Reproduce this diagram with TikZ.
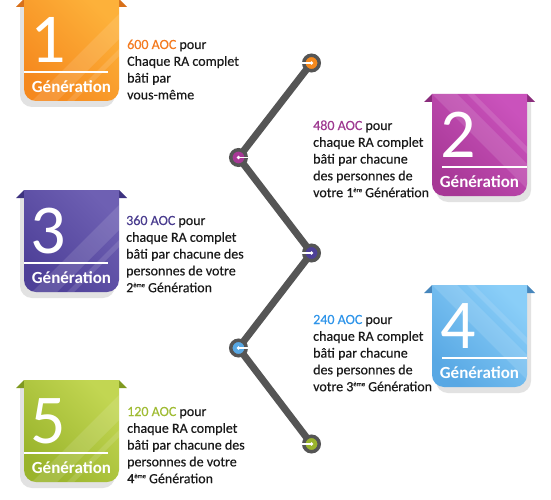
\documentclass[tikz,border=0pt]{standalone}
\usepackage{fontspec}
\setmainfont{Carlito}
\newfontfamily\txtfont[FakeBold=0.35]{Carlito}
\usetikzlibrary{backgrounds}
\definecolor{linegray}{HTML}{555555}
\definecolor{shadowgray}{HTML}{E2E2E2}
\definecolor{txtcol}{HTML}{1A1A1A}
% badge colours
\definecolor{c1dark}{HTML}{F5891E}\definecolor{c1light}{HTML}{FDB13A}\definecolor{c1flap}{HTML}{D8701A}\definecolor{c1text}{HTML}{F47B20}
\definecolor{c2dark}{HTML}{A73896}\definecolor{c2light}{HTML}{CA52BC}\definecolor{c2flap}{HTML}{8A2C7C}\definecolor{c2text}{HTML}{9E3A91}
\definecolor{c3dark}{HTML}{4E4098}\definecolor{c3light}{HTML}{6E60B3}\definecolor{c3flap}{HTML}{3E3380}\definecolor{c3text}{HTML}{4A3D8F}
\definecolor{c4dark}{HTML}{58A8E4}\definecolor{c4light}{HTML}{8ACEF8}\definecolor{c4flap}{HTML}{4686BC}\definecolor{c4text}{HTML}{2F95EA}
\definecolor{c5dark}{HTML}{9AB42C}\definecolor{c5light}{HTML}{C2D652}\definecolor{c5flap}{HTML}{809A20}\definecolor{c5text}{HTML}{A0BC34}
\newcommand\supx[1]{\raisebox{5pt}{\fontsize{6.5}{7}\selectfont #1}}
\tikzset{
  txt/.style={anchor=base west, inner sep=0pt, text=txtcol, font=\txtfont\fontsize{14}{16.8}\selectfont},
  digit/.style={text=white, inner sep=0pt, font=\fontsize{70}{70}\selectfont},
  gen/.style={text=white, inner sep=0pt, font=\bfseries\fontsize{17}{17}\selectfont},
  ring/.style={circle, draw=linegray, line width=3.5pt, minimum size=15.5pt, inner sep=0pt},
  tick/.style={white, line width=1.5pt},
  conn/.style={linegray, line width=7pt, line join=round}
}
% #1 index, #2 left x, #3 top y, #4 side (0 = left column, 1 = right column)
\newcommand\drawbadge[4]{%
\begin{scope}[shift={(#2,#3)}]
  \ifnum#4=0 \def\sdx{-4}\def\numx{24}\def\lxa{0}\def\lxb{84}\else\def\sdx{4}\def\numx{26}\def\lxa{10}\def\lxb{95}\fi
  \fill[shadowgray] (\sdx,8) -- (\sdx+95,8) -- (\sdx+95,96) arc[start angle=0,end angle=-90,radius=12pt]
     -- (\sdx+12,108) arc[start angle=-90,end angle=-180,radius=12pt] -- cycle;
  \fill[c#1flap] (-8,8) -- (0,0) -- (0,8) -- cycle;
  \fill[c#1flap] (95,0) -- (103,8) -- (95,8) -- cycle;
  \shade[top color=c#1light, bottom color=c#1dark, shading angle=-45]
     (0,0) -- (95,0) -- (95,90) arc[start angle=0,end angle=-90,radius=12pt]
     -- (12,102) arc[start angle=-90,end angle=-180,radius=12pt] -- cycle;
  \begin{scope}
    \clip (0,0) -- (95,0) -- (95,90) arc[start angle=0,end angle=-90,radius=12pt]
     -- (12,102) arc[start angle=-90,end angle=-180,radius=12pt] -- cycle;
    \ifnum#4=0
      \fill[white,opacity=0.12] (130,-20) -- (155,-20) -- (15,120) -- (-10,120) -- cycle;
      \fill[white,opacity=0.12] (165,-20) -- (172,-20) -- (32,120) -- (25,120) -- cycle;
    \else
      \fill[white,opacity=0.12] (-20,-20) -- (5,-20) -- (145,120) -- (120,120) -- cycle;
      \fill[white,opacity=0.12] (15,-20) -- (22,-20) -- (162,120) -- (155,120) -- cycle;
    \fi
  \end{scope}
  \draw[white, line width=1.2pt] (\lxa,73) -- (\lxb,73);
  \node[digit] (b#1num) at (\numx,41) {#1};
  \node[gen] (b#1gen) at (47.5,88) {Génération};
\end{scope}}
\begin{document}
\begin{tikzpicture}[x=1pt,y=-1pt]
\useasboundingbox (0,0) rectangle (551,500);
% badges
\drawbadge{1}{24}{-1}{0}
\drawbadge{2}{432}{94}{1}
\drawbadge{3}{24}{190}{0}
\drawbadge{4}{432}{285}{1}
\drawbadge{5}{24}{380}{0}
% texts
\node[txt] (t1) at (127,49) {\begin{tabular}[t]{@{}l@{}}\textcolor{c1text}{600 AOC} pour\\Chaque RA complet\\bâti par\\vous-même\end{tabular}};
\node[txt] (t2) at (313,130) {\begin{tabular}[t]{@{}l@{}}\textcolor{c2text}{480 AOC} pour\\chaque RA complet\\bâti par chacune\\des personnes de\\votre 1\supx{ère} Génération\end{tabular}};
\node[txt] (t3) at (126,225) {\begin{tabular}[t]{@{}l@{}}\textcolor{c3text}{360 AOC} pour\\chaque RA complet\\bâti par chacune des\\personnes de votre\\2\supx{ème} Génération\end{tabular}};
\node[txt] (t4) at (313,324) {\begin{tabular}[t]{@{}l@{}}\textcolor{c4text}{240 AOC} pour\\chaque RA complet\\bâti par chacune\\des personnes de\\votre 3\supx{ème} Génération\end{tabular}};
\node[txt] (t5) at (127,416) {\begin{tabular}[t]{@{}l@{}}\textcolor{c5text}{120 AOC} pour\\chaque RA complet\\bâti par chacune des\\personnes de votre\\4\supx{ème} Génération\end{tabular}};
% timeline
\node[ring, fill=c1dark] (n1) at (311.5,63) {};
\node[ring, fill=c2dark] (n2) at (238.5,157.5) {};
\node[ring, fill=c3dark] (n3) at (311.5,253) {};
\node[ring, fill=c4dark] (n4) at (238.5,348) {};
\node[ring, fill=c5dark] (n5) at (311.5,444) {};
\begin{scope}[on background layer]
  \fill[white] (0,0) rectangle (551,500);
  \draw[conn] (n1.center) -- (n2.center) -- (n3.center) -- (n4.center) -- (n5.center);
\end{scope}
\coordinate (k1) at (301.5,63);
\coordinate (k2) at (248.5,157.5);
\coordinate (k3) at (301.5,253);
\coordinate (k4) at (248.5,348);
\coordinate (k5) at (301.5,444);
\foreach \i in {1,...,5}{
  \draw[tick] (n\i.center) -- (k\i);
  \fill[white] (n\i.center) circle[radius=1.8pt];
}
\end{tikzpicture}
\end{document}
